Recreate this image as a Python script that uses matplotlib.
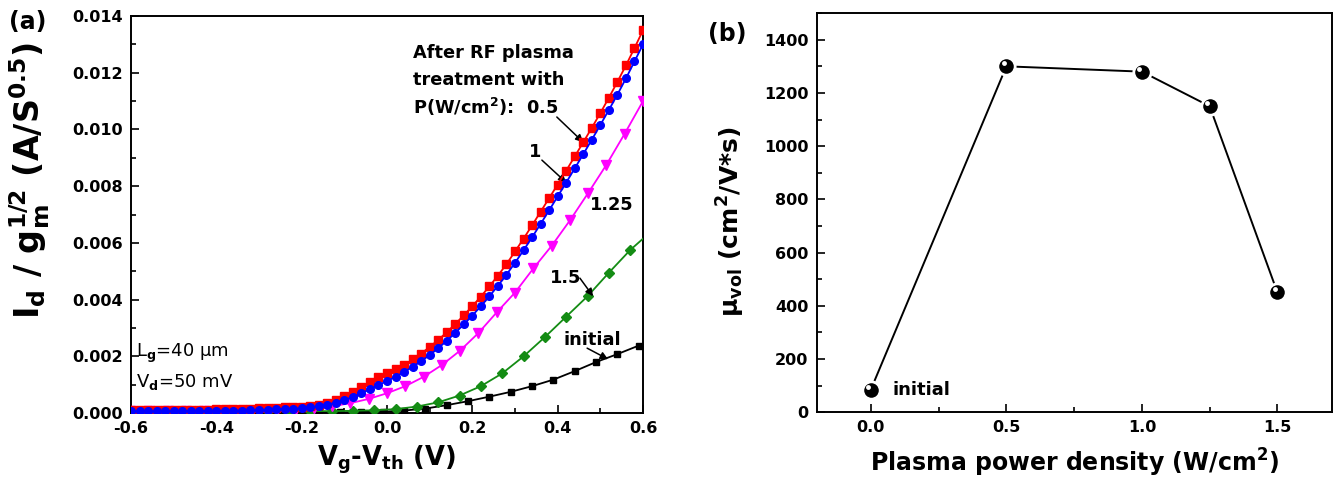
import numpy as np
import matplotlib
matplotlib.use('Agg')
import matplotlib.pyplot as plt
from matplotlib.ticker import MultipleLocator, FormatStrFormatter
import matplotlib.transforms as mtransforms

plt.rcParams['font.family'] = ['DejaVu Sans']
plt.rcParams['font.weight'] = 'bold'
plt.rcParams['mathtext.default'] = 'bf'
plt.rcParams['axes.unicode_minus'] = False

# ---------------- data: panel (a) ----------------
# gate sweep for the 0.5 and 1 W/cm2 curves (0.02 V step)
vg_fine = np.round(np.linspace(-0.6, 0.6, 61), 3)
i_05 = [0.00010, 0.00010, 0.00010, 0.00010, 0.00010, 0.00011, 0.00011, 0.00011,
        0.00012, 0.00012, 0.00013, 0.00013, 0.00014, 0.00015, 0.00016, 0.00017,
        0.00018, 0.00019, 0.00020, 0.00021, 0.00022, 0.00025, 0.00029, 0.00036,
        0.00046, 0.00060, 0.00076, 0.00093, 0.00110, 0.00126,
        0.00140, 0.00154, 0.00170, 0.00189, 0.00210, 0.00233, 0.00258, 0.00285,
        0.00314, 0.00345, 0.00377, 0.00411, 0.00447, 0.00485, 0.00525, 0.00570,
        0.00615, 0.00662, 0.00710, 0.00758, 0.00806, 0.00855, 0.00905, 0.00955,
        0.01006, 0.01058, 0.01112, 0.01168, 0.01226, 0.01287, 0.01350]
i_1 = [0.00006, 0.00006, 0.00006, 0.00006, 0.00006, 0.00007, 0.00007, 0.00007,
       0.00007, 0.00008, 0.00008, 0.00008, 0.00009, 0.00009, 0.00010, 0.00011,
       0.00012, 0.00013, 0.00014, 0.00015, 0.00017, 0.00020, 0.00024, 0.00030,
       0.00037, 0.00046, 0.00057, 0.00070, 0.00084, 0.00099,
       0.00113, 0.00128, 0.00145, 0.00163, 0.00183, 0.00205, 0.00229, 0.00255,
       0.00283, 0.00313, 0.00344, 0.00377, 0.00412, 0.00449, 0.00488, 0.00530,
       0.00574, 0.00620, 0.00667, 0.00715, 0.00764, 0.00813, 0.00863, 0.00913,
       0.00964, 0.01016, 0.01069, 0.01123, 0.01180, 0.01240, 0.01300]
# 1.25 W/cm2 curve
vg_125 = np.round(np.linspace(-0.6, 0.6, 29), 3)
i_125 = [0.00008, 0.00008, 0.00008, 0.00008, 0.00008, 0.00008, 0.00009, 0.00010,
         0.00011, 0.00013, 0.00017, 0.00024, 0.00035, 0.00050, 0.00070, 0.00095,
         0.00128, 0.00170, 0.00220, 0.00282, 0.00355, 0.00425, 0.00510, 0.00590,
         0.00680, 0.00775, 0.00875, 0.00985, 0.01100]
# 1.5 W/cm2 curve (last value = end of line at 0.6 V)
vg_15 = [-0.58, -0.53, -0.48, -0.43, -0.38, -0.33, -0.28, -0.23, -0.18, -0.13,
         -0.08, -0.03, 0.02, 0.07, 0.12, 0.17, 0.22, 0.27, 0.32, 0.37, 0.42,
         0.47, 0.52, 0.57, 0.60]
i_15 = [0.00009, 0.00009, 0.00008, 0.00008, 0.00008, 0.00007, 0.00007, 0.00007,
        0.00007, 0.00007, 0.00008, 0.00010, 0.00014, 0.00023, 0.00038, 0.00062,
        0.00095, 0.00140, 0.00200, 0.00268, 0.00340, 0.00412, 0.00495, 0.00575,
        0.00615]
# initial (last value = end of line at 0.6 V)
vg_init = [-0.56, -0.51, -0.46, -0.41, -0.36, -0.31, -0.26, -0.21, -0.16, -0.11,
           -0.06, -0.01, 0.04, 0.09, 0.14, 0.19, 0.24, 0.29, 0.34, 0.39, 0.44,
           0.49, 0.54, 0.59, 0.60]
i_init = [0.00003, 0.00003, 0.00003, 0.00003, 0.00003, 0.00003, 0.00003, 0.00003,
          0.00003, 0.00003, 0.00004, 0.00005, 0.00009, 0.00016, 0.00028, 0.00042,
          0.00058, 0.00075, 0.00095, 0.00118, 0.00148, 0.00180, 0.00208, 0.00238,
          0.00243]

# ---------------- data: panel (b) ----------------
power = [0.0, 0.5, 1.0, 1.25, 1.5]
mobility = [85, 1300, 1280, 1150, 450]

fig = plt.figure(figsize=(13.41, 4.86), dpi=100)
ax1 = fig.add_axes([0.0977, 0.150, 0.3818, 0.817])
ax2 = fig.add_axes([0.609, 0.152, 0.384, 0.821])

# ---- panel (a)
lw = 1.3
ax1.plot(vg_init, i_init, '-', color='black', lw=lw, zorder=2)
ax1.plot(vg_init[:-1], i_init[:-1], 's', color='black', ms=5, zorder=2)
ax1.plot(vg_15, i_15, '-', color='#148c14', lw=lw, zorder=3)
ax1.plot(vg_15[:-1], i_15[:-1], 'D', color='#148c14', ms=5.5, zorder=3)
ax1.plot(vg_125, i_125, '-v', color='#ff00ff', lw=lw, ms=6.5, zorder=4)
ax1.plot(vg_fine, i_05, '-s', color='#ff0000', lw=lw, ms=5.5, zorder=5)
ax1.plot(vg_fine, i_1, '-o', color='#0000ff', lw=lw, ms=5.5, zorder=6)

ax1.set_xlim(-0.6, 0.6)
ax1.set_ylim(0, 0.014)
ax1.xaxis.set_major_locator(MultipleLocator(0.2))
ax1.xaxis.set_minor_locator(MultipleLocator(0.1))
ax1.yaxis.set_major_locator(MultipleLocator(0.002))
ax1.yaxis.set_minor_locator(MultipleLocator(0.001))
ax1.xaxis.set_major_formatter(FormatStrFormatter('%.1f'))
ax1.yaxis.set_major_formatter(FormatStrFormatter('%.3f'))

ax1.set_xlabel('V$_g$-V$_{th}$ (V)', fontsize=18.5, fontweight='bold', labelpad=5)
ax1.set_ylabel('I$_d$ / g$_m^{1/2}$ (A/S$^{0.5}$)', fontsize=24, fontweight='bold')
ax1.yaxis.set_label_coords(-0.155, 0.585)

tk = 12.8
ax1.text(0.061, 0.0130, 'After RF plasma', fontsize=tk, fontweight='bold', va='top')
ax1.text(0.061, 0.01205, 'treatment with', fontsize=tk, fontweight='bold', va='top')
ax1.text(0.061, 0.0112, 'P(W/cm$^2$):  0.5', fontsize=tk, fontweight='bold', va='top')
ax1.text(0.333, 0.00903, '1', fontsize=tk, fontweight='bold', va='baseline')
ax1.text(0.476, 0.00716, '1.25', fontsize=tk, fontweight='bold', va='baseline')
ax1.text(0.382, 0.00458, '1.5', fontsize=tk, fontweight='bold', va='baseline')
ax1.text(0.413, 0.00240, 'initial', fontsize=tk, fontweight='bold', va='baseline')

arr = dict(arrowstyle='-|>', color='black', lw=1.1, mutation_scale=11, shrinkA=0, shrinkB=0)
ax1.annotate('', xy=(vg_fine[53], i_05[53]), xytext=(0.398, 0.01044), arrowprops=arr)
ax1.annotate('', xy=(vg_fine[51], i_1[51]), xytext=(0.363, 0.00892), arrowprops=arr)
ax1.annotate('', xy=(0.483, 0.00412), xytext=(0.452, 0.00476), arrowprops=arr)
ax1.annotate('', xy=(0.518, 0.00190), xytext=(0.469, 0.00229), arrowprops=arr)

ax1.text(-0.588, 0.00197, 'L$_\\mathrm{g}$=40 μm', fontsize=13, fontweight='normal', va='baseline')
ax1.text(-0.588, 0.00092, 'V$_\\mathrm{d}$=50 mV', fontsize=13, fontweight='normal', va='baseline')

# ---- panel (b)
ax2.plot(power, mobility, '-', color='black', lw=1.4, zorder=2)
ax2.plot(power, mobility, 'o', color='black', ms=12.5, mec='white', mew=2.0, zorder=3)
hl = mtransforms.offset_copy(ax2.transData, fig=fig, x=-2.5, y=3.0, units='dots')
ax2.plot(power, mobility, 'o', color='white', ms=3.5, mew=0, transform=hl, zorder=4)
ax2.text(0.08, 85, 'initial', fontsize=13, fontweight='bold', va='center')

ax2.set_xlim(-0.2, 1.7)
ax2.set_ylim(0, 1500)
ax2.xaxis.set_major_locator(MultipleLocator(0.5))
ax2.xaxis.set_minor_locator(MultipleLocator(0.25))
ax2.yaxis.set_major_locator(MultipleLocator(200))
ax2.yaxis.set_minor_locator(MultipleLocator(100))
ax2.xaxis.set_major_formatter(FormatStrFormatter('%.1f'))
ax2.set_xlabel('Plasma power density (W/cm$^2$)', fontsize=17, fontweight='bold', labelpad=8)
ax2.set_ylabel('μ$_{vol}$ (cm$^2$/V*s)', fontsize=18, fontweight='bold')
ax2.yaxis.set_label_coords(-0.135, 0.476)

for ax in (ax1, ax2):
    for s in ax.spines.values():
        s.set_linewidth(1.4)
    ax.tick_params(which='both', direction='in', top=False, right=False,
                   labelsize=11.5, width=1.2)
    ax.tick_params(which='major', length=6, pad=6)
    ax.tick_params(which='minor', length=3.5)
    for lab in ax.get_xticklabels() + ax.get_yticklabels():
        lab.set_fontweight('bold')

fig.text(0.007, 0.979, '(a)', fontsize=17, fontweight='bold', va='top')
fig.text(0.528, 0.955, '(b)', fontsize=17, fontweight='bold', va='top')

fig.savefig('out.png', dpi=100)
